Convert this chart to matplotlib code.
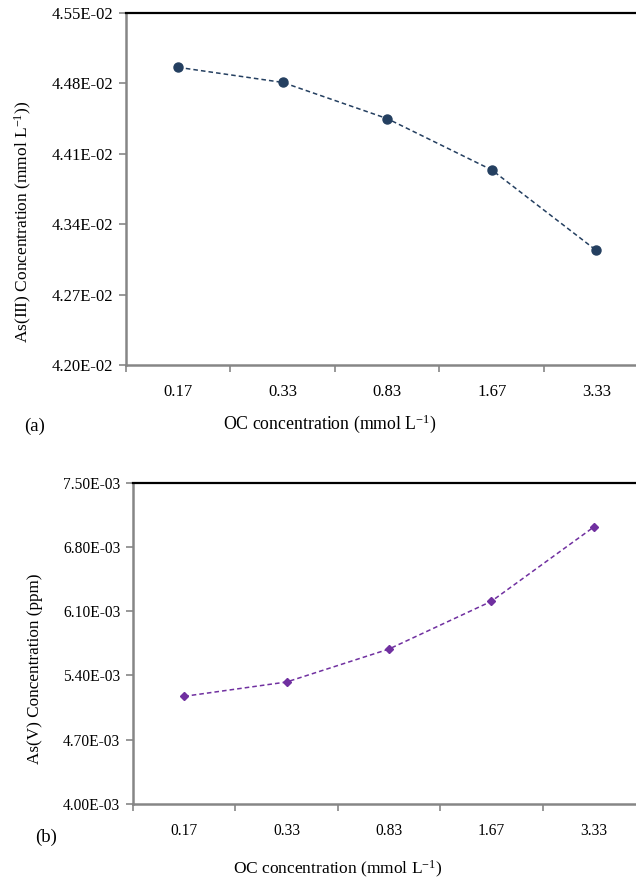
import numpy as np
import matplotlib
matplotlib.use('Agg')
import matplotlib.pyplot as plt

plt.rcParams['font.family'] = 'Liberation Serif'
plt.rcParams['mathtext.fontset'] = 'custom'
plt.rcParams['mathtext.rm'] = 'Liberation Serif'
plt.rcParams['mathtext.it'] = 'Liberation Serif:italic'

categories = ['0.17', '0.33', '0.83', '1.67', '3.33']
as3_values = [4.496e-02, 4.481e-02, 4.445e-02, 4.394e-02, 4.314e-02]
as5_values = [5.173e-03, 5.329e-03, 5.688e-03, 6.208e-03, 7.017e-03]
as3_ticks = [4.20e-02, 4.27e-02, 4.34e-02, 4.41e-02, 4.48e-02, 4.55e-02]
as5_ticks = [4.00e-03, 4.70e-03, 5.40e-03, 6.10e-03, 6.80e-03, 7.50e-03]

GRAY = '#868686'


def style_axes(ax, yticks, ticksize):
    x = np.arange(len(categories))
    ax.set_xlim(-0.5, len(categories) - 0.5)
    ax.set_ylim(yticks[0], yticks[-1])
    # tick marks sit between categories, labels at the centres
    ax.set_xticks(np.arange(-0.5, len(categories), 1.0))
    ax.set_xticklabels([])
    ax.set_xticks(x, minor=True)
    ax.set_xticklabels(categories, minor=True)
    ax.tick_params(axis='x', which='minor', length=0, pad=14, labelsize=ticksize)
    ax.tick_params(axis='x', which='major', direction='out', length=5, color=GRAY, width=1.2)
    ax.set_yticks(yticks)
    ax.set_yticklabels(['%.2E' % v for v in yticks])
    ax.tick_params(axis='y', direction='out', length=5, color=GRAY, width=1.2,
                   labelsize=ticksize, pad=4)
    ax.spines['top'].set_color('black')
    ax.spines['top'].set_linewidth(1.6)
    ax.spines['right'].set_visible(False)
    for s in ['left', 'bottom']:
        ax.spines[s].set_color(GRAY)
        ax.spines[s].set_linewidth(1.8)


fig = plt.figure(figsize=(6.36, 8.81), dpi=100)

# (a) As(III)
ax1 = fig.add_axes([0.1981, 0.5857, 0.8215, 0.3995])
ax1.plot(np.arange(len(categories)), as3_values, linestyle=(0, (3, 2)), lw=1.1,
         color='#243F60', marker='o', markersize=6.5)
style_axes(ax1, as3_ticks, 12)
ax1.set_ylabel('As(III) Concentration (mmol L$^{-1}$))', fontsize=12.5)
ax1.yaxis.set_label_coords(-0.176, 0.406)
fig.text(330 / 636, 1 - 424 / 881, 'OC concentration (mmol L$^{-1}$)', fontsize=12.8,
         ha='center', va='center')
fig.text(35 / 636, 1 - 426 / 881, '(a)', fontsize=13.5, ha='center', va='center')

# (b) As(V)
ax2 = fig.add_axes([0.2091, 0.0874, 0.805, 0.3647])
ax2.plot(np.arange(len(categories)), as5_values, linestyle=(0, (3, 2)), lw=1.1,
         color='#7030A0', marker='D', markersize=4.5)
style_axes(ax2, as5_ticks, 11.2)
ax2.set_ylabel('As(V) Concentration (ppm)', fontsize=12.3)
ax2.yaxis.set_label_coords(-0.176, 0.42)
fig.text(338 / 636, 1 - 869 / 881, 'OC concentration (mmol L$^{-1}$)', fontsize=12.5,
         ha='center', va='center')
fig.text(46 / 636, 1 - 837 / 881, '(b)', fontsize=13.5, ha='center', va='center')

fig.savefig('out.png', dpi=100)
